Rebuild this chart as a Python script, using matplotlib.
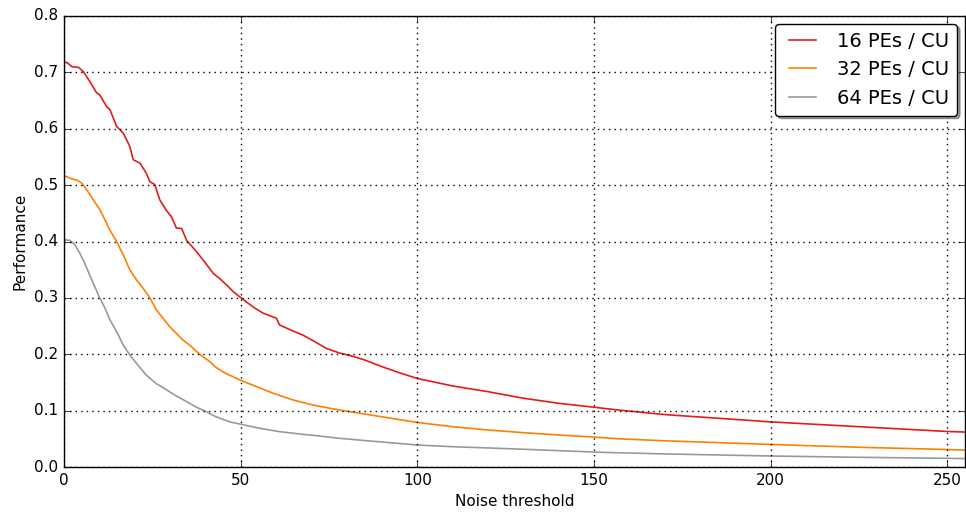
import matplotlib
matplotlib.use("Agg")
import matplotlib.pyplot as plt

plt.style.use('classic')
plt.rcParams['font.family'] = ['DejaVu Sans']

labels = ["16 PEs / CU", "32 PEs / CU", "64 PEs / CU"]
colors = ["#e41a1c", "#ff7f00", "#999999"]

x16 = [0, 1, 2.2, 4.1, 5.5, 7.4, 9.2, 10.1, 12.1, 13.0, 14.9, 16.8, 18.6, 19.6, 21.5,
       23.3, 24.3, 25.7, 27.1, 29.0, 30.4, 31.8, 33.3, 34.7, 37.5, 39.4, 42.3, 44.1,
       46.0, 47.9, 49.7, 51.6, 53.5, 56.3, 60.1, 61.0, 63.8, 67.6, 70.5, 74.2, 77.8,
       82, 85, 90, 95, 100, 110, 120, 130, 140, 150, 157, 170, 200, 225, 250, 255]
y16 = [0.718, 0.717, 0.710, 0.709, 0.701, 0.683, 0.664, 0.660, 0.639, 0.634, 0.604,
       0.592, 0.569, 0.545, 0.539, 0.521, 0.506, 0.501, 0.474, 0.455, 0.444, 0.424,
       0.423, 0.402, 0.382, 0.367, 0.343, 0.334, 0.323, 0.311, 0.302, 0.293, 0.284,
       0.273, 0.264, 0.252, 0.244, 0.234, 0.224, 0.2105, 0.2025, 0.196, 0.190, 0.178,
       0.167, 0.157, 0.1437, 0.1336, 0.122, 0.113, 0.106, 0.101, 0.093, 0.080, 0.0715,
       0.063, 0.062]

x32 = [0, 2.2, 3.6, 5.0, 6.4, 8.3, 10.2, 12.0, 13.0, 14.9, 15.8, 16.8, 18.6, 20.5,
       22.4, 24.3, 26.1, 28.0, 29.9, 31.8, 33.7, 35.6, 37.5, 39.4, 41.3, 42.7, 45.5,
       49.9, 53.5, 59.1, 64.8, 70.4, 75.4, 80, 85, 90, 95, 100, 110, 120, 130, 140,
       150, 157, 170, 200, 225, 250, 255]
y32 = [0.517, 0.511, 0.509, 0.5035, 0.492, 0.474, 0.456, 0.433, 0.420, 0.400, 0.388,
       0.376, 0.350, 0.332, 0.317, 0.300, 0.279, 0.264, 0.249, 0.237, 0.225, 0.216,
       0.205, 0.195, 0.187, 0.178, 0.167, 0.154, 0.145, 0.131, 0.119, 0.110, 0.104,
       0.099, 0.094, 0.089, 0.084, 0.0790, 0.0715, 0.0656, 0.0609, 0.0568, 0.053,
       0.050, 0.0465, 0.040, 0.035, 0.031, 0.030]

x64 = [0, 1.7, 3.1, 4.5, 5.9, 7.3, 8.7, 10.1, 11.6, 13.0, 14.9, 16.8, 18.6, 20.5,
       23.3, 26.1, 29.0, 31.8, 34.7, 37.5, 40.3, 42.7, 46.9, 49.9, 55.4, 61.0, 66.7,
       72.3, 77.8, 85, 100, 110, 120, 130, 140, 150, 157, 170, 200, 225, 250, 255]
y64 = [0.403, 0.402, 0.394, 0.379, 0.361, 0.340, 0.320, 0.300, 0.282, 0.261, 0.240,
       0.216, 0.199, 0.184, 0.163, 0.148, 0.137, 0.126, 0.116, 0.106, 0.098, 0.090,
       0.080, 0.076, 0.0686, 0.0627, 0.0586, 0.055, 0.051, 0.047, 0.039, 0.036,
       0.0338, 0.0315, 0.029, 0.0265, 0.0252, 0.0232, 0.0195, 0.0172, 0.0154, 0.0148]

xticks = [0, 50, 100, 150, 200, 250]
yticks = [0.0, 0.1, 0.2, 0.3, 0.4, 0.5, 0.6, 0.7, 0.8]

fig = plt.figure(figsize=(9.66, 5.16), dpi=100, facecolor='white')
ax = fig.add_axes([64/966, 1-467/516, 901/966, 451/516])
ax.set_facecolor('white')

for xs, ys, lab, c in zip([x16, x32, x64], [y16, y32, y64], labels, colors):
    ax.plot(xs, ys, color=c, lw=1.2, label=lab)

ax.set_xlim(0, 255)
ax.set_ylim(0, 0.8)
ax.set_xticks(xticks)
ax.set_yticks(yticks)
ax.set_yticklabels([f"{v:.1f}" for v in yticks])
ax.tick_params(labelsize=11, direction='in', length=5, top=True, right=True)
ax.grid(True, linestyle=':', color='black', lw=1.0)
ax.set_xlabel("Noise threshold", fontsize=11)
ax.set_ylabel("Performance", fontsize=11)
leg = ax.legend(loc='upper right', fontsize=14, shadow=True, fancybox=True,
                handlelength=2.0, borderaxespad=0.4)
leg.get_frame().set_linewidth(1.0)

fig.savefig("out.png", dpi=100, facecolor='white')
